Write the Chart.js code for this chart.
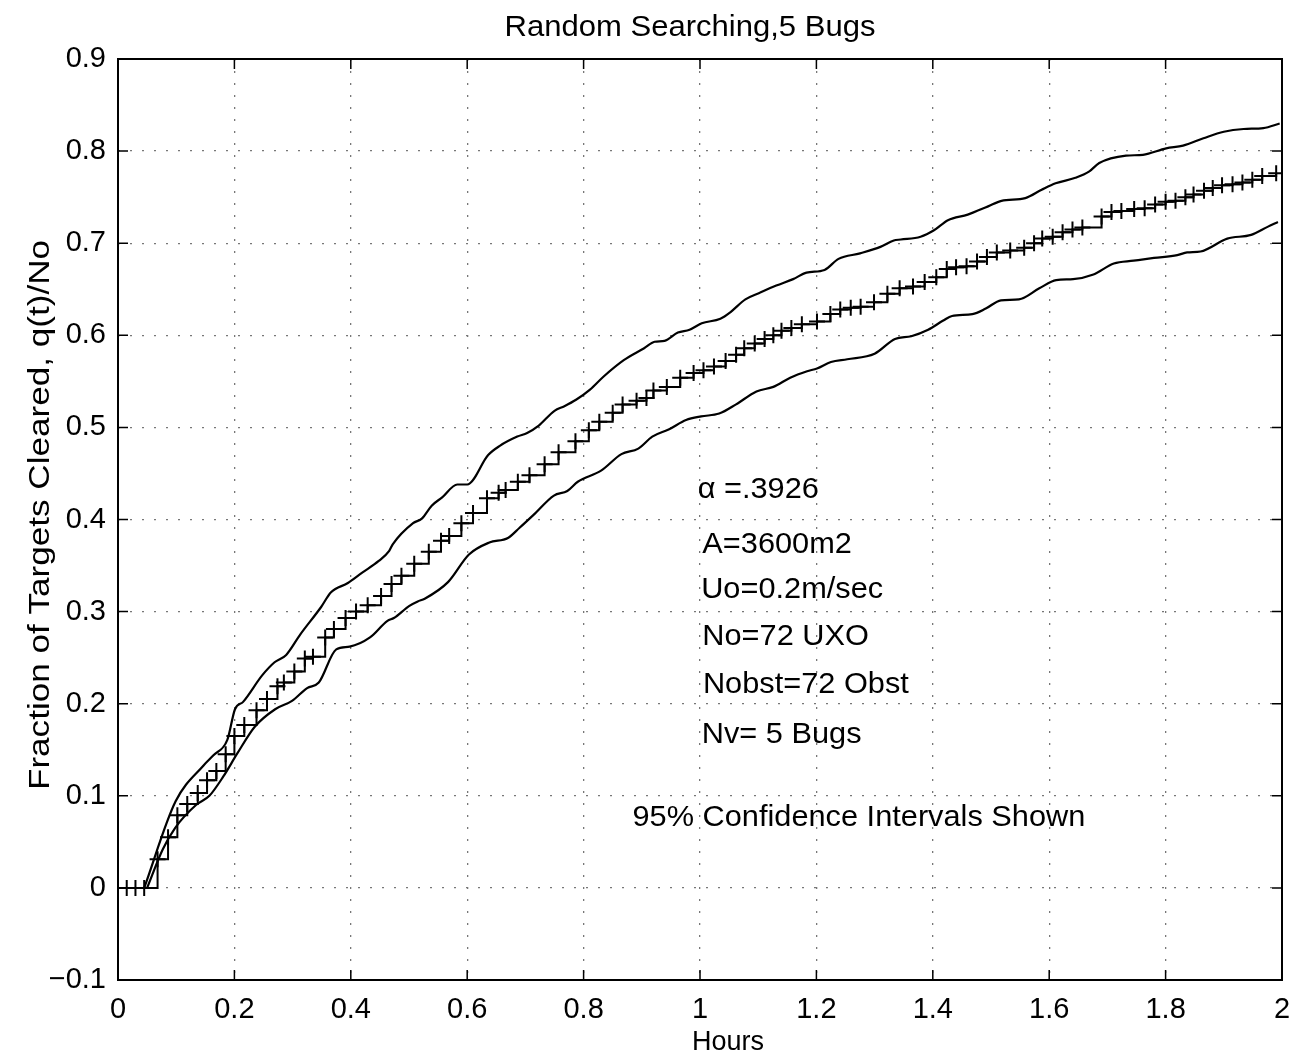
<!DOCTYPE html>
<html>
<head>
<meta charset="utf-8">
<title>Random Searching, 5 Bugs</title>
<script src="https://cdn.jsdelivr.net/npm/chart.js@4.4.0/dist/chart.umd.min.js"></script>
<style>
  html, body { margin: 0; padding: 0; background: #fff; }
  #wrap { width: 1312px; height: 1062px; }
</style>
</head>
<body>
<div id="wrap"><canvas id="bugs" width="1312" height="1062"></canvas></div>
<script>
// mean fraction of targets cleared (stairs with + markers)
const meanHours = [0.015, 0.030, 0.045, 0.068, 0.086, 0.102, 0.119, 0.137, 0.153, 0.169,
  0.185, 0.200, 0.217, 0.238, 0.256, 0.274, 0.285, 0.303, 0.321, 0.335,
  0.356, 0.371, 0.391, 0.409, 0.429, 0.452, 0.470, 0.487, 0.509, 0.534,
  0.555, 0.569, 0.590, 0.610, 0.634, 0.654, 0.666, 0.687, 0.707, 0.733,
  0.757, 0.786, 0.809, 0.827, 0.850, 0.867, 0.891, 0.908, 0.920, 0.943,
  0.966, 0.989, 1.006, 1.024, 1.044, 1.062, 1.076, 1.094, 1.111, 1.126,
  1.140, 1.157, 1.175, 1.201, 1.224, 1.241, 1.259, 1.276, 1.299, 1.322,
  1.343, 1.366, 1.386, 1.406, 1.424, 1.440, 1.458, 1.476, 1.493, 1.510,
  1.533, 1.557, 1.574, 1.588, 1.606, 1.623, 1.640, 1.657, 1.690, 1.707,
  1.724, 1.746, 1.764, 1.782, 1.800, 1.817, 1.834, 1.848, 1.866, 1.881,
  1.897, 1.915, 1.932, 1.949, 1.966, 1.990];
const meanFrac = [0, 0, 0, 0.031, 0.055, 0.079, 0.091, 0.103, 0.117, 0.127,
  0.145, 0.165, 0.177, 0.193, 0.205, 0.219, 0.223, 0.235, 0.249, 0.251,
  0.272, 0.281, 0.293, 0.300, 0.307, 0.317, 0.330, 0.339, 0.352, 0.365,
  0.377, 0.382, 0.396, 0.407, 0.423, 0.429, 0.432, 0.441, 0.448, 0.460,
  0.473, 0.485, 0.497, 0.506, 0.516, 0.525, 0.529, 0.532, 0.540, 0.544,
  0.554, 0.559, 0.562, 0.566, 0.572, 0.579, 0.586, 0.591, 0.596, 0.600,
  0.605, 0.608, 0.612, 0.615, 0.623, 0.628, 0.630, 0.631, 0.636, 0.645,
  0.651, 0.653, 0.658, 0.663, 0.672, 0.674, 0.675, 0.680, 0.685, 0.690,
  0.692, 0.695, 0.700, 0.705, 0.707, 0.712, 0.715, 0.717, 0.729, 0.734,
  0.735, 0.737, 0.738, 0.742, 0.745, 0.746, 0.750, 0.753, 0.757, 0.760,
  0.763, 0.764, 0.766, 0.769, 0.773, 0.776];

// upper 95% confidence bound
const upperHours = [0.045, 0.099, 0.147, 0.164, 0.188, 0.201, 0.215, 0.248, 0.269, 0.289,
  0.313, 0.349, 0.366, 0.395, 0.419, 0.448, 0.466, 0.472, 0.507, 0.522,
  0.539, 0.557, 0.583, 0.600, 0.636, 0.656, 0.686, 0.703, 0.723, 0.750,
  0.767, 0.787, 0.811, 0.834, 0.869, 0.904, 0.922, 0.939, 0.962, 0.982,
  1.003, 1.035, 1.052, 1.078, 1.102, 1.131, 1.160, 1.183, 1.214, 1.238,
  1.275, 1.310, 1.333, 1.345, 1.379, 1.402, 1.426, 1.460, 1.495, 1.518,
  1.559, 1.587, 1.611, 1.645, 1.669, 1.686, 1.732, 1.761, 1.801, 1.830,
  1.865, 1.900, 1.934, 1.968, 1.996];
const upperFrac = [0, 0.094, 0.133, 0.144, 0.161, 0.194, 0.202, 0.231, 0.245, 0.253,
  0.275, 0.305, 0.321, 0.331, 0.342, 0.355, 0.366, 0.373, 0.396, 0.401,
  0.415, 0.424, 0.438, 0.438, 0.470, 0.480, 0.490, 0.494, 0.502, 0.518,
  0.523, 0.530, 0.541, 0.555, 0.573, 0.586, 0.593, 0.594, 0.603, 0.606,
  0.613, 0.618, 0.625, 0.639, 0.646, 0.654, 0.661, 0.668, 0.671, 0.683,
  0.689, 0.696, 0.703, 0.704, 0.707, 0.714, 0.725, 0.731, 0.740, 0.746,
  0.749, 0.758, 0.765, 0.771, 0.778, 0.787, 0.795, 0.796, 0.803, 0.806,
  0.814, 0.821, 0.824, 0.825, 0.830];

// lower 95% confidence bound
const lowerHours = [0.050, 0.077, 0.098, 0.134, 0.157, 0.181, 0.205, 0.235, 0.270, 0.299,
  0.325, 0.345, 0.375, 0.398, 0.433, 0.463, 0.474, 0.500, 0.515, 0.527,
  0.567, 0.603, 0.638, 0.670, 0.690, 0.714, 0.749, 0.772, 0.790, 0.830,
  0.865, 0.894, 0.918, 0.947, 0.976, 1.002, 1.033, 1.062, 1.097, 1.126,
  1.155, 1.184, 1.201, 1.225, 1.253, 1.300, 1.335, 1.363, 1.392, 1.418,
  1.433, 1.468, 1.491, 1.517, 1.548, 1.583, 1.612, 1.641, 1.676, 1.711,
  1.745, 1.780, 1.820, 1.837, 1.860, 1.906, 1.947, 1.976, 1.993];
const lowerFrac = [0, 0.042, 0.065, 0.090, 0.100, 0.121, 0.146, 0.175, 0.194, 0.203,
  0.217, 0.223, 0.259, 0.262, 0.272, 0.290, 0.293, 0.306, 0.311, 0.314,
  0.332, 0.362, 0.375, 0.380, 0.391, 0.405, 0.426, 0.431, 0.441, 0.453,
  0.471, 0.477, 0.490, 0.498, 0.508, 0.512, 0.515, 0.525, 0.539, 0.544,
  0.554, 0.561, 0.564, 0.571, 0.574, 0.580, 0.596, 0.599, 0.606, 0.616,
  0.621, 0.623, 0.629, 0.638, 0.639, 0.651, 0.660, 0.661, 0.666, 0.678,
  0.681, 0.684, 0.687, 0.690, 0.691, 0.705, 0.709, 0.718, 0.723];

// run parameters written inside the axes, [text, hours, fraction]
const notes = [
  ['\u03b1 =.3926', 0.996, 0.432],
  ['A=3600m2', 1.004, 0.372],
  ['Uo=0.2m/sec', 1.002, 0.3235],
  ['No=72 UXO', 1.004, 0.272],
  ['Nobst=72 Obst', 1.005, 0.220],
  ['Nv= 5 Bugs', 1.003, 0.166],
  ['95% Confidence Intervals Shown', 0.884, 0.076]
];

const FONT = '"Liberation Sans", Arial, Helvetica, sans-serif';

const pairs = (xs, ys) => xs.map((x, i) => ({ x: x, y: ys[i] }));

function fmt(v) {
  const r = Math.round(v * 10) / 10;
  if (r === 0) return '0';
  const s = Number.isInteger(r) ? String(Math.abs(r)) : Math.abs(r).toFixed(1);
  return (r < 0 ? '\u2212' : '') + s;
}

function label(ctx, str, x, y, size, sx, angle, align) {
  ctx.save();
  ctx.translate(x, y);
  ctx.rotate(angle || 0);
  ctx.scale(sx, 1);
  ctx.font = size + 'px ' + FONT;
  ctx.fillStyle = '#000';
  ctx.textAlign = align || 'center';
  ctx.textBaseline = 'middle';
  ctx.fillText(str, 0, 0);
  ctx.restore();
}

// box round the axes, inward ticks on all four sides, titles and notes
const frame = {
  id: 'frame',
  afterDraw(chart) {
    const { ctx, chartArea: a, scales: { x, y } } = chart;
    ctx.save();
    ctx.strokeStyle = '#000';
    ctx.lineWidth = 1.5;
    ctx.beginPath();
    x.ticks.forEach(t => {
      const px = x.getPixelForValue(t.value);
      ctx.moveTo(px, a.bottom); ctx.lineTo(px, a.bottom - 10);
      ctx.moveTo(px, a.top); ctx.lineTo(px, a.top + 10);
    });
    y.ticks.forEach(t => {
      const py = y.getPixelForValue(t.value);
      ctx.moveTo(a.left, py); ctx.lineTo(a.left + 10, py);
      ctx.moveTo(a.right, py); ctx.lineTo(a.right - 10, py);
    });
    ctx.stroke();
    ctx.lineWidth = 2;
    ctx.strokeRect(a.left, a.top, a.right - a.left, a.bottom - a.top);
    ctx.restore();

    label(ctx, 'Random Searching,5 Bugs', 690, 28, 29, 1.07);
    label(ctx, 'Hours', 728, 1043, 27, 1);
    label(ctx, 'Fraction of Targets Cleared, q(t)/No', 41, 515, 30, 1.17, -Math.PI / 2);
    notes.forEach(([txt, h, f]) => {
      label(ctx, txt, x.getPixelForValue(h), y.getPixelForValue(f), 29, 1.06, 0, 'left');
    });
  }
};

const gridStyle = { color: '#777', lineWidth: 1.3, drawTicks: false };
const dotted = { display: false, dash: [2, 10] };

new Chart(document.getElementById('bugs'), {
  type: 'line',
  data: {
    datasets: [{
      label: 'q(t)/No',
      data: pairs(meanHours, meanFrac),
      stepped: 'before',
      borderColor: '#000',
      borderWidth: 2,
      pointStyle: 'cross',
      pointRadius: 8,
      pointBorderWidth: 2,
      pointBorderColor: '#000',
      fill: false
    }, {
      label: 'upper 95%',
      data: pairs(upperHours, upperFrac),
      borderColor: '#000',
      borderWidth: 2.2,
      pointRadius: 0,
      cubicInterpolationMode: 'monotone',
      fill: false
    }, {
      label: 'lower 95%',
      data: pairs(lowerHours, lowerFrac),
      borderColor: '#000',
      borderWidth: 2.2,
      pointRadius: 0,
      cubicInterpolationMode: 'monotone',
      fill: false
    }]
  },
  options: {
    responsive: false,
    animation: false,
    layout: { padding: { top: 59, right: 30, left: 0, bottom: 0 } },
    plugins: {
      legend: { display: false },
      tooltip: { enabled: false },
      title: { display: false }
    },
    scales: {
      x: {
        type: 'linear',
        min: 0,
        max: 2,
        afterFit: s => { s.height = 82; },
        ticks: {
          stepSize: 0.2,
          autoSkip: false,
          maxRotation: 0,
          padding: 13,
          color: '#000',
          font: { family: FONT, size: 29 },
          callback: v => fmt(v)
        },
        grid: gridStyle,
        border: dotted
      },
      y: {
        min: -0.1,
        max: 0.9,
        afterFit: s => { s.width = 118; },
        ticks: {
          stepSize: 0.1,
          padding: 12,
          color: '#000',
          font: { family: FONT, size: 29 },
          callback: v => fmt(v)
        },
        grid: gridStyle,
        border: dotted
      }
    }
  },
  plugins: [frame]
});
</script>
</body>
</html>
